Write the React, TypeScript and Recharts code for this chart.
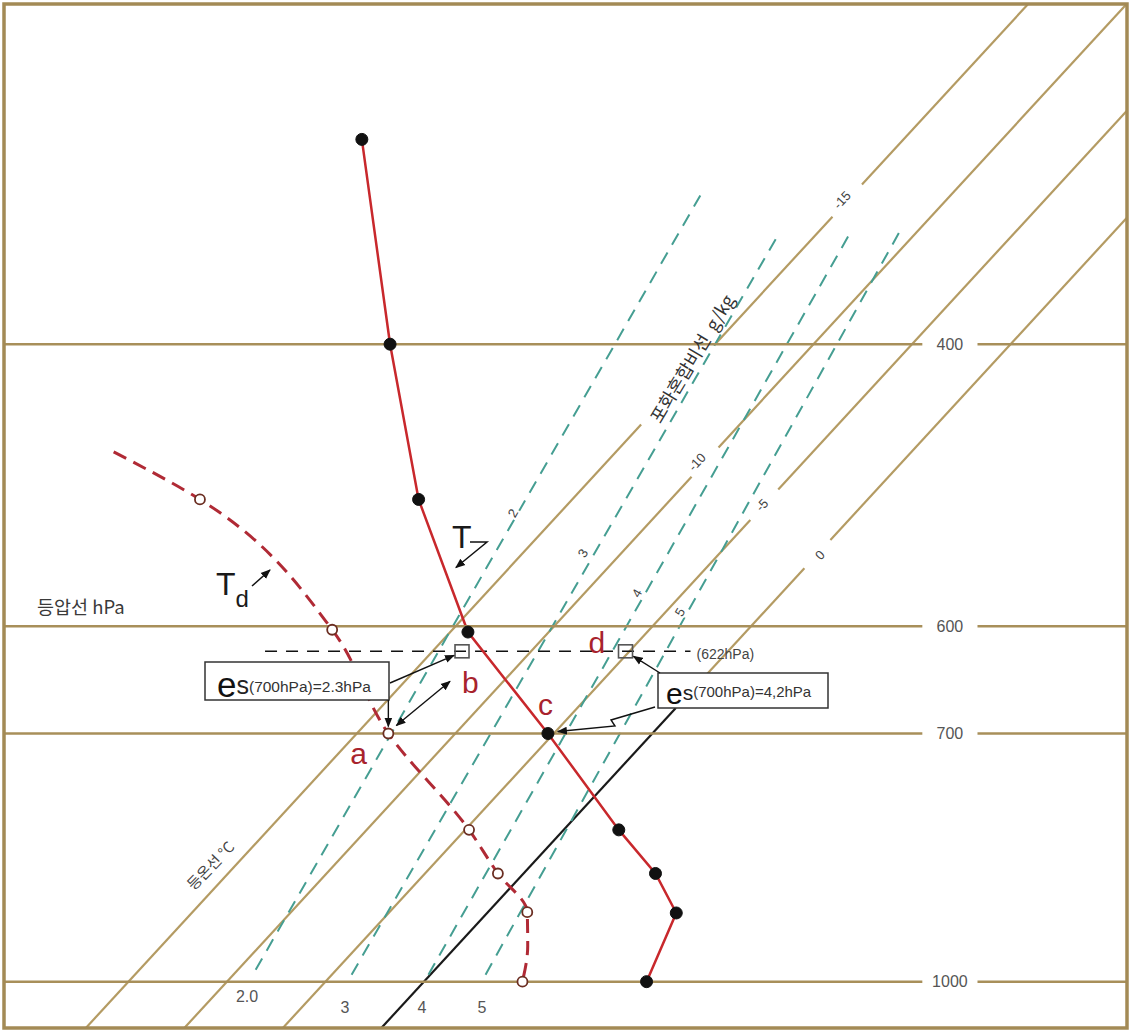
import React from "react";
import { ComposedChart, Line, XAxis, YAxis } from "recharts";

// chart frame
const W = 1135;
const H = 1031;
const MARGIN = { top: 4, right: 8, bottom: 3, left: 4 };
const PLOT_W = W - MARGIN.left - MARGIN.right;
const PLOT_H = H - MARGIN.top - MARGIN.bottom;

// skewed temperature axis (°C at 1000 hPa) and log pressure axis
const XMIN = -21.32;
const XMAX = 35.69;
const PMIN = 245.3;
const PMAX = 1068.9;
const SKEW = 32.5;

// temperature sounding
const tempLevels = [298, 400, 500, 605, 700, 804, 856, 906, 1000];
const tempValues = [-42.5, -31.5, -22.8, -14.1, -5.3, 2.8, 6.7, 9.6, 11.3];

// dew point sounding
const dewLevels = [467, 500, 603, 700, 804, 856, 905, 950, 1000];
const dewValues = [-40.5, -33.9, -21.1, -13.4, -4.8, -1.3, 2.0, 3.6, 5.0];
const dewMarked = [false, true, true, true, true, true, true, false, true];

// isotherms (°C) and the pressure spans they are drawn over
const isoTemps = [-15, -10, -5, 0];
const isoLabels = ["-15", "-10", "-5", "0"];
const isoSpans = [
  [[1068.9, 449], [400, 333], [318, 245]],
  [[1068.9, 484], [464, 245]],
  [[1068.9, 515], [493, 245]],
  [[675, 552], [530, 245]],
];
const boldIsoTemp = 0;
const boldIsoSpan = [1068.9, 675];

// saturation mixing ratio lines (g/kg)
const mixLabels = ["2.0", "3", "4", "5"];
const mixTopLabels = ["2", "3", "4", "5"];
const mixBottomP = [983, 990, 990, 990];
const mixBottomT = [-9.1, -4.0, -0.1, 2.8];
const mixTopP = [323, 342, 342, 340];
const mixTopT = [-22.7, -16.9, -13.3, -10.9];

// isobars (hPa)
const isobars = [400, 600, 700, 1000];

// 622 hPa level and points b, d
const lclP = 622;
const lclSpanT = [-23.5, -1.9];
const lclPointT = [-13.5, -5.2];

const TAN = "#b49b63";
const TAN_DARK = "#a88f5a";
const TEAL = "#459e92";
const RED = "#c8282c";
const DRED = "#b02a35";
const LETTER = "#a8232d";
const SANS = "'Liberation Sans', Arial, sans-serif";
const KR = "'Noto Sans CJK KR', 'Noto Sans', sans-serif";
const ISOBAR_GAP = [25.3, 28.1];
const ISOBAR_LABEL_X = 26.7;

const skewX = (t: number, p: number) => t + SKEW * Math.log(1000 / p);

function toPx(x: number, p: number) {
  const px = MARGIN.left + ((x - XMIN) / (XMAX - XMIN)) * PLOT_W;
  const py =
    MARGIN.top +
    ((Math.log(p) - Math.log(PMIN)) / (Math.log(PMAX) - Math.log(PMIN))) * PLOT_H;
  return [px, py];
}

const seg = (t: number, p1: number, p2: number) => [
  { x: skewX(t, p1), p: p1 },
  { x: skewX(t, p2), p: p2 },
];

const tempData = tempLevels.map((p, i) => ({ x: skewX(tempValues[i], p), p }));
const dewData = dewLevels.map((p, i) => ({
  x: skewX(dewValues[i], p),
  p,
  m: dewMarked[i],
}));
const lclData = lclSpanT.map((t) => ({ x: skewX(t, lclP), p: lclP }));
const lclPoints = lclPointT.map((t) => ({ x: skewX(t, lclP), p: lclP }));

const DewDot = (props: any) => {
  const { cx, cy, payload, index } = props;
  if (!payload.m) return <g key={`dd-${index}`} />;
  return (
    <circle
      key={`dd-${index}`}
      cx={cx}
      cy={cy}
      r={5}
      fill="#fff"
      stroke="#6b2e22"
      strokeWidth={1.8}
    />
  );
};

const SquareDot = (props: any) => {
  const { cx, cy, index } = props;
  return (
    <rect
      key={`sq-${index}`}
      x={cx - 7}
      y={cy - 6.5}
      width={14}
      height={13}
      fill="none"
      stroke="#555"
      strokeWidth={1.6}
    />
  );
};

function Overlay() {
  const [ax, ay] = toPx(skewX(dewValues[3], 700), 700);
  const [cx, cy] = toPx(skewX(tempValues[4], 700), 700);
  const [bx, by] = toPx(lclPoints[0].x, lclP);
  const [dx, dy] = toPx(lclPoints[1].x, lclP);
  const [lx, ly] = toPx(lclData[1].x, lclP);
  const text = { fontFamily: SANS };
  return (
    <svg
      width={W}
      height={H}
      style={{ position: "absolute", left: 0, top: 0, pointerEvents: "none" }}
    >
      <defs>
        <marker
          id="arr"
          viewBox="0 0 10 10"
          refX="9"
          refY="5"
          markerUnits="userSpaceOnUse"
          markerWidth="10"
          markerHeight="10"
          orient="auto-start-reverse"
        >
          <path d="M0,1 L10,5 L0,9 z" fill="#111" />
        </marker>
      </defs>

      {/* isobar labels */}
      {isobars.map((p) => {
        const [x, y] = toPx(ISOBAR_LABEL_X, p);
        return (
          <text
            key={`ib-${p}`}
            x={x}
            y={y}
            textAnchor="middle"
            dominantBaseline="central"
            fontSize={16}
            fill="#555"
            {...text}
          >
            {p}
          </text>
        );
      })}

      {/* isotherm labels */}
      {[
        [842, 200],
        [697, 462],
        [762, 505],
        [820, 555],
      ].map(([x, y], i) => (
        <text
          key={`il-${i}`}
          x={x}
          y={y}
          transform={`rotate(-47 ${x} ${y})`}
          textAnchor="middle"
          dominantBaseline="central"
          fontSize={13}
          fill="#444"
          {...text}
        >
          {isoLabels[i]}
        </text>
      ))}

      {/* mixing ratio labels */}
      {[
        [513, 513],
        [583, 553],
        [637, 593],
        [680, 612],
      ].map(([x, y], i) => (
        <text
          key={`ml-${i}`}
          x={x}
          y={y}
          transform={`rotate(-60 ${x} ${y})`}
          textAnchor="middle"
          dominantBaseline="central"
          fontSize={13}
          fill="#444"
          stroke="#fff"
          strokeWidth={4}
          paintOrder="stroke"
          {...text}
        >
          {mixTopLabels[i]}
        </text>
      ))}
      {[
        [247, 996],
        [345, 1007],
        [422, 1007],
        [482, 1007],
      ].map(([x, y], i) => (
        <text
          key={`mb-${i}`}
          x={x}
          y={y}
          textAnchor="middle"
          dominantBaseline="central"
          fontSize={16}
          fill="#555"
          {...text}
        >
          {mixLabels[i]}
        </text>
      ))}

      {/* axis names */}
      <text x={37} y={614} fontSize={18.5} fill="#3a3a3a" fontFamily={KR}>
        등압선 hPa
      </text>
      <text
        x={210}
        y={865}
        transform="rotate(-46 210 865)"
        textAnchor="middle"
        dominantBaseline="central"
        fontSize={15}
        fill="#444"
        fontFamily={KR}
      >
        등온선 °C
      </text>
      <text
        x={691}
        y={358}
        transform="rotate(-59 691 358)"
        textAnchor="middle"
        dominantBaseline="central"
        fontSize={18}
        fill="#333"
        fontFamily={KR}
      >
        포화혼합비선{"\u00a0\u00a0"}g/kg
      </text>

      {/* 622 hPa label */}
      <text
        x={lx + 6}
        y={ly + 3}
        dominantBaseline="central"
        fontSize={14}
        fill="#444"
        {...text}
      >
        (622hPa)
      </text>

      {/* T and Td labels */}
      <text x={452} y={548} fontSize={32} fill="#1a1a1a" {...text}>
        T
      </text>
      <polyline
        points={`470,542 487,542 ${cx - 92},${cy - 166}`}
        fill="none"
        stroke="#111"
        strokeWidth={1.5}
        markerEnd="url(#arr)"
      />
      <text x={216} y={595} fontSize={32} fill="#1a1a1a" {...text}>
        T
        <tspan fontSize={24} dy={12}>
          d
        </tspan>
      </text>
      <line
        x1={252}
        y1={586}
        x2={270}
        y2={570}
        stroke="#111"
        strokeWidth={1.5}
        markerEnd="url(#arr)"
      />

      {/* point letters */}
      <text x={ax - 38} y={ay + 30} fontSize={30} fill={LETTER} {...text}>
        a
      </text>
      <text x={bx} y={by + 42} fontSize={30} fill={LETTER} {...text}>
        b
      </text>
      <text x={cx - 10} y={cy - 19} fontSize={30} fill={LETTER} {...text}>
        c
      </text>
      <text x={dx - 37} y={dy + 2} fontSize={30} fill={LETTER} {...text}>
        d
      </text>

      {/* left box */}
      <rect x={205} y={662} width={184} height={38} fill="#fff" stroke="#333" strokeWidth={1.5} />
      <text x={217} y={697} fill="#111" {...text}>
        <tspan fontSize={35}>e</tspan>
        <tspan fontSize={25} dy={-3} fill="#222">
          s
        </tspan>
        <tspan fontSize={15.5} dy={-2} fill="#333">
          (700hPa)=2.3hPa
        </tspan>
      </text>
      <line x1={390} y1={683} x2={bx - 8} y2={by + 4} stroke="#111" strokeWidth={1.4} markerEnd="url(#arr)" />
      <line x1={ax} y1={700} x2={ax} y2={ay - 7} stroke="#111" strokeWidth={1.4} markerEnd="url(#arr)" />
      <line
        x1={ax + 8}
        y1={ay - 8}
        x2={bx - 12}
        y2={by + 30}
        stroke="#111"
        strokeWidth={1.4}
        markerStart="url(#arr)"
        markerEnd="url(#arr)"
      />

      {/* right box */}
      <rect x={658} y={673} width={170} height={35} fill="#fff" stroke="#333" strokeWidth={1.5} />
      <text x={666} y={704} fill="#111" {...text}>
        <tspan fontSize={30}>e</tspan>
        <tspan fontSize={21} dy={-4} fill="#222">
          s
        </tspan>
        <tspan fontSize={15} dy={-3} fill="#333">
          (700hPa)=4,2hPa
        </tspan>
      </text>
      <line x1={660} y1={673} x2={dx + 8} y2={dy + 5} stroke="#111" strokeWidth={1.4} markerEnd="url(#arr)" />
      <polyline
        points={`655,707 611,720 615,726 ${cx + 10},${cy - 2}`}
        fill="none"
        stroke="#111"
        strokeWidth={1.4}
        markerEnd="url(#arr)"
      />

      {/* frame */}
      <rect
        x={MARGIN.left}
        y={MARGIN.top}
        width={PLOT_W}
        height={PLOT_H}
        fill="none"
        stroke="#a38a55"
        strokeWidth={3.5}
      />
    </svg>
  );
}

export default function App() {
  return (
    <div
      style={{
        position: "absolute",
        left: 0,
        top: 0,
        width: W,
        height: H,
        background: "#fff",
      }}
    >
      <ComposedChart width={W} height={H} margin={MARGIN}>
        <XAxis type="number" dataKey="x" domain={[XMIN, XMAX]} allowDataOverflow hide />
        <YAxis
          type="number"
          scale="log"
          domain={[PMIN, PMAX]}
          reversed
          allowDataOverflow
          hide
        />

        {isoTemps.map((t, i) =>
          isoSpans[i].map(([p1, p2], j) => (
            <Line
              key={`iso-${t}-${j}`}
              data={seg(t, p1, p2)}
              dataKey="p"
              type="linear"
              stroke={TAN}
              strokeWidth={2.2}
              dot={false}
              isAnimationActive={false}
            />
          ))
        )}
        <Line
          data={seg(boldIsoTemp, boldIsoSpan[0], boldIsoSpan[1])}
          dataKey="p"
          type="linear"
          stroke="#1a1a1a"
          strokeWidth={2.2}
          dot={false}
          isAnimationActive={false}
        />

        {mixLabels.map((w, i) => (
          <Line
            key={`mix-${w}`}
            data={[
              { x: skewX(mixBottomT[i], mixBottomP[i]), p: mixBottomP[i] },
              { x: skewX(mixTopT[i], mixTopP[i]), p: mixTopP[i] },
            ]}
            dataKey="p"
            type="linear"
            stroke={TEAL}
            strokeWidth={2}
            strokeDasharray="13 9"
            dot={false}
            isAnimationActive={false}
          />
        ))}

        <Line
          data={lclData}
          dataKey="p"
          type="linear"
          stroke="#111"
          strokeWidth={1.5}
          strokeDasharray="12 9"
          dot={false}
          isAnimationActive={false}
        />

        <Line
          data={tempData}
          dataKey="p"
          type="linear"
          stroke={RED}
          strokeWidth={2.5}
          dot={{ r: 6, fill: "#111", stroke: "#111", strokeWidth: 1 }}
          isAnimationActive={false}
        />
        <Line
          data={dewData}
          dataKey="p"
          type="monotoneY"
          stroke={DRED}
          strokeWidth={3}
          strokeDasharray="14 8"
          dot={DewDot}
          isAnimationActive={false}
        />
        <Line
          data={lclPoints}
          dataKey="p"
          type="linear"
          stroke="none"
          dot={SquareDot}
          isAnimationActive={false}
        />

        {isobars.map((p) => (
          <Line
            key={`ib-a-${p}`}
            data={[
              { x: XMIN, p },
              { x: ISOBAR_GAP[0], p },
            ]}
            dataKey="p"
            type="linear"
            stroke={TAN_DARK}
            strokeWidth={2.5}
            dot={false}
            isAnimationActive={false}
          />
        ))}
        {isobars.map((p) => (
          <Line
            key={`ib-b-${p}`}
            data={[
              { x: ISOBAR_GAP[1], p },
              { x: XMAX, p },
            ]}
            dataKey="p"
            type="linear"
            stroke={TAN_DARK}
            strokeWidth={2.5}
            dot={false}
            isAnimationActive={false}
          />
        ))}
      </ComposedChart>
      <Overlay />
    </div>
  );
}
